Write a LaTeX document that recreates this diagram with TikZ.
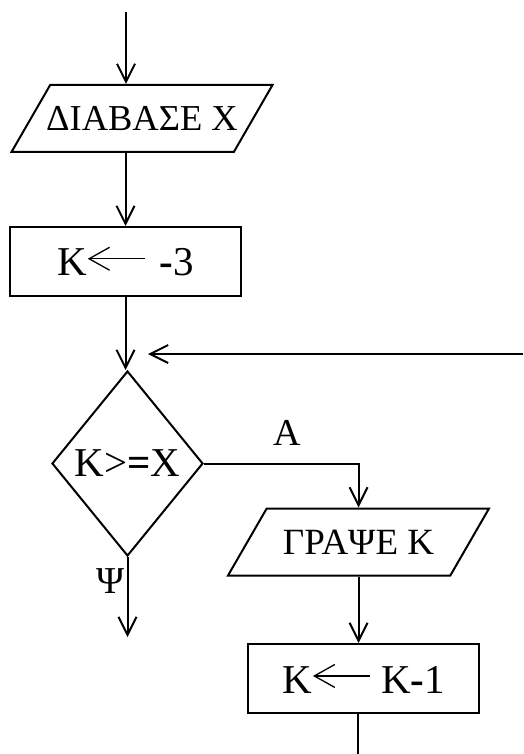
\documentclass[tikz,border=0pt]{standalone}
\usepackage{fontspec}
\setmainfont{Liberation Serif}
\usetikzlibrary{arrows.meta,shapes.geometric,calc}

\newcommand{\getsarrow}{\tikz[baseline=-0.42em]\draw[line width=1.3pt,{Straight Barb[length=0.5em,width=0.56em]}-] (0,0) -- (1.4em,0);}

\tikzset{
  box/.style={draw, line width=2pt, minimum width=231pt, minimum height=69pt, inner sep=0pt, font=\fontsize{41}{48}\selectfont},
  io/.style={draw, line width=2pt, trapezium, trapezium left angle=60, trapezium right angle=120, trapezium stretches body, minimum width=261pt, text height=25pt, text depth=0pt, inner xsep=-5pt, inner ysep=21pt},
  cond/.style={draw, line width=2pt, diamond, aspect=0.82, minimum width=151pt, minimum height=185pt, inner sep=0pt, font=\fontsize{41}{48}\selectfont},
  flow/.style={line width=2pt, -{Straight Barb[length=18pt,width=18pt]}},
  lbl/.style={inner sep=2pt, font=\fontsize{38}{44}\selectfont}
}

\begin{document}
\begin{tikzpicture}[x=1pt,y=-1pt]
  \useasboundingbox (0,0) rectangle (523,754);

  \node[io, font=\fontsize{36.5}{44}\selectfont] (read) at (142,118.5) {ΔΙΑΒΑΣΕ Χ};
  \node[box] (init) at (125.5,261.5) {K\getsarrow\hspace{14pt}\textbf{-}3};
  \node[cond] (test) at (127.5,463.5) {K>\textbf{=}X};
  \node[io, font=\fontsize{37}{44}\selectfont] (write) at (358.5,542) {ΓΡΑΨΕ Κ};
  \node[box] (dec) at (363.5,678.5) {K\getsarrow\hspace{10pt}K\textbf{-}1};

  \coordinate (start) at (126,12);
  \coordinate (back) at (523,354);
  \coordinate (back_end) at (148,354);
  \coordinate (exit) at (131,637);
  \coordinate (next) at (358,754);

  % main flow
  \draw[flow] (start) -- (start |- read.north);
  \draw[flow] (init.north |- read.south) -- (init.north);
  \draw[flow] (init.south) -- (init.south |- test.north);
  \draw[flow] (back) -- (back_end);

  % branches
  \draw[flow] (test.east) -| node[lbl, above=15pt, pos=0.27] {Α} (write.north);
  \draw[flow] (test.south) -- node[lbl, left=0pt, pos=0.3] {Ψ} (test.south |- exit);
  \draw[flow] (write.south) -- (write.south |- dec.north);
  \draw[line width=2pt] (next |- dec.south) -- (next);
\end{tikzpicture}
\end{document}
